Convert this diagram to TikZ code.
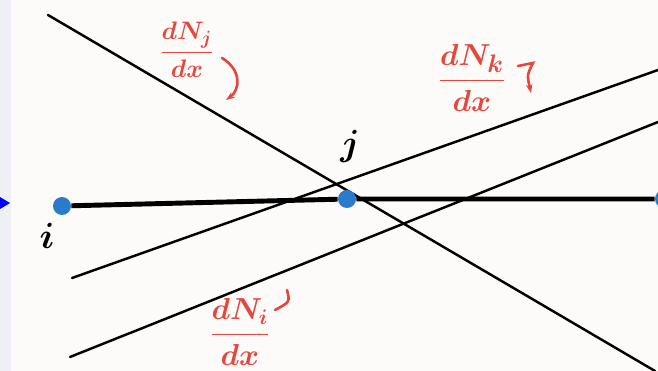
\documentclass[tikz,border=0pt]{standalone}
\usepackage{amsmath}
\usetikzlibrary{arrows.meta}
\definecolor{hand}{HTML}{E2483D}
\definecolor{dotblue}{HTML}{2A7BCB}
\definecolor{strip}{HTML}{EEF0F6}
\definecolor{paper}{HTML}{FDFBFA}
\tikzset{
  shapeline/.style={line width=1.4pt, line cap=round},
  elemline/.style={line width=2.8pt},
  nodept/.style={circle, fill=dotblue, inner sep=0pt, minimum size=0.36cm},
  deriv/.style={text=hand, inner sep=0pt},
  hook/.style={hand, line width=1.5pt, line cap=round},
  ptlabel/.style={inner sep=0pt, font=\fontsize{22}{24}\selectfont\boldmath},
}

\begin{document}
\begin{tikzpicture}[x=0.02cm,y=-0.02cm]
\useasboundingbox (0,0) rectangle (658,371);
\fill[paper] (0,0) rectangle (658,371);
\fill[strip] (0,0) rectangle (11,371);
\fill[blue] (0,197) -- (10,203) -- (0,209) -- cycle;
\draw[shapeline] (48,15) -- (655,371);
\draw[shapeline] (72,278) -- (658,70);
\draw[shapeline] (70,357) -- (658,122);
\node[nodept] (i) at (62,206) {};
\node[nodept] (j) at (347,199) {};
\node[nodept] (k) at (664,199) {};
\draw[elemline] (i) -- (j) -- (k);
\node[ptlabel] (ilab) at (47,236) {$i$};
\node[ptlabel] (jlab) at (350,146) {$j$};
\node[deriv, font=\fontsize{15}{18}\selectfont\boldmath] (dnj) at (187,50) {$\dfrac{dN_j}{dx}$};
\node[deriv, font=\fontsize{19}{22}\selectfont\boldmath] (dnk) at (472,78) {$\dfrac{dN_k}{dx}$};
\node[deriv, font=\fontsize{17}{20}\selectfont\boldmath] (dni) at (240,332) {$\dfrac{dN_i}{dx}$};
\draw[hook, -{Stealth[length=5pt]}] (222,58) .. controls (242,70) and (240,90) .. (226,100);
\draw[hook, -{Stealth[length=5pt]}] (518,66) -- (533,63) .. controls (527,75) .. (531,93);
\draw[hook] (287,290) .. controls (290,302) .. (275,310);
\end{tikzpicture}
\end{document}
